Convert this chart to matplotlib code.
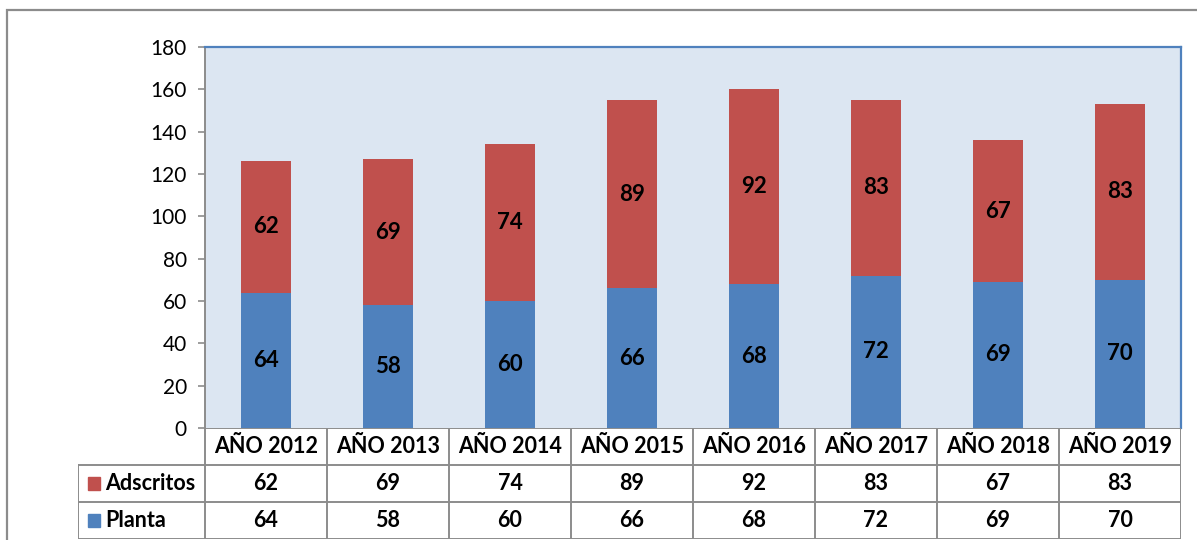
import numpy as np
import matplotlib.pyplot as plt
from matplotlib.patches import Rectangle

# data
years = ['AÑO 2012', 'AÑO 2013', 'AÑO 2014', 'AÑO 2015',
         'AÑO 2016', 'AÑO 2017', 'AÑO 2018', 'AÑO 2019']
planta = [64, 58, 60, 66, 68, 72, 69, 70]
adscritos = [62, 69, 74, 89, 92, 83, 67, 83]
yticks = [0, 20, 40, 60, 80, 100, 120, 140, 160, 180]

BLUE = '#4F81BD'
RED = '#C0504D'
GRID = '#8C8C8C'
FONT = 'Lato'

W, H = 1197, 540
fig = plt.figure(figsize=(W / 100, H / 100), dpi=100)

# outer chart border
fig.patches.append(Rectangle((7 / W, -0.1), 1.2, 1 - 10 / H + 0.1,
                             transform=fig.transFigure, fill=False,
                             edgecolor=GRID, linewidth=1.6))

x = np.arange(len(years))
ax = fig.add_axes([205 / W, 1 - 428 / H, 976 / W, 381 / H])
ax.set_facecolor('#DCE6F2')
ax.bar(x, planta, width=0.41, color=BLUE)
ax.bar(x, adscritos, width=0.41, bottom=planta, color=RED)
for i in x:
    ax.text(i, planta[i] / 2, str(planta[i]), ha='center', va='center',
            fontsize=16, fontweight='bold', family=FONT)
    ax.text(i, planta[i] + adscritos[i] / 2, str(adscritos[i]), ha='center',
            va='center', fontsize=16, fontweight='bold', family=FONT)
ax.set_xlim(-0.5, 7.5)
ax.set_ylim(0, 180)
ax.set_yticks(yticks)
ax.set_xticks([])
ax.tick_params(axis='y', length=5, width=1.2, color=GRID, labelsize=15, pad=8)
for lab in ax.get_yticklabels():
    lab.set_family(FONT)
ax.spines['left'].set_color(GRID)
ax.spines['left'].set_linewidth(1.4)
ax.spines['bottom'].set_visible(False)
for s in ['top', 'right']:
    ax.spines[s].set_color('#4F81BD')
    ax.spines[s].set_linewidth(1.6)

# data table
tx = fig.add_axes([78 / W, 1 - 539 / H, 1103 / W, 111 / H])
tx.set_xlim(-0.5 - 127 / 122, 7.5)
tx.set_ylim(3, 0)
tx.axis('off')
lw = 1.4
left = -0.5 - 127 / 122
# horizontal lines
tx.plot([-0.5, 7.5], [0, 0], color=GRID, lw=lw)
for yy in [1, 2, 3]:
    tx.plot([left, 7.5], [yy, yy], color=GRID, lw=lw)
# vertical lines
tx.plot([left, left], [1, 3], color=GRID, lw=lw)
for xx in np.arange(-0.5, 8.0, 1.0):
    tx.plot([xx, xx], [0, 3], color=GRID, lw=lw)

for i in x:
    tx.text(i, 0.5, years[i], ha='center', va='center', fontsize=15.5,
            fontweight='bold', family=FONT)
    tx.text(i, 1.5, str(adscritos[i]), ha='center', va='center', fontsize=15.5,
            fontweight='bold', family=FONT)
    tx.text(i, 2.5, str(planta[i]), ha='center', va='center', fontsize=15.5,
            fontweight='bold', family=FONT)

for row, name, col in [(1.5, 'Adscritos', RED), (2.5, 'Planta', BLUE)]:
    tx.add_patch(Rectangle((left + 10 / 122, row - 0.17), 12 / 122, 0.34,
                           color=col))
    tx.text(left + 27 / 122, row, name, ha='left', va='center', fontsize=15.5,
            fontweight='bold', family=FONT)

fig.savefig('out.png', dpi=100)
